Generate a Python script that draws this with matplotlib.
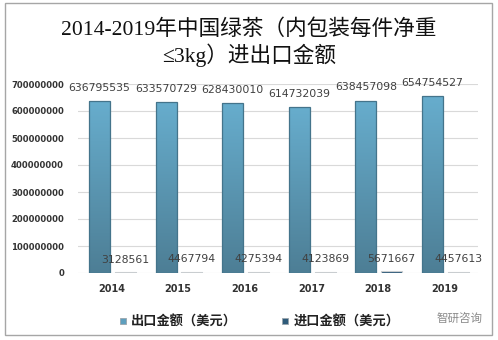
import matplotlib
matplotlib.use('Agg')
import matplotlib.pyplot as plt
import numpy as np
from matplotlib.colors import LinearSegmentedColormap
from matplotlib.patches import Rectangle
from matplotlib.lines import Line2D
from matplotlib.ticker import FuncFormatter, MultipleLocator

years = ['2014', '2015', '2016', '2017', '2018', '2019']
export_usd = [636795535, 633570729, 628430010, 614732039, 638457098, 654754527]
import_usd = [3128561, 4467794, 4275394, 4123869, 5671667, 4457613]
series_names = ['出口金额（美元）', '进口金额（美元）']
title_lines = ['2014-2019年中国绿茶（内包装每件净重', '≤3kg）进出口金额']
watermark = '智研咨询'

plt.rcParams['font.family'] = ['DejaVu Sans', 'Noto Sans CJK SC']

W, H = 498, 340
fig = plt.figure(figsize=(W / 100, H / 100), dpi=100)
fig.patch.set_facecolor('white')
ax = fig.add_axes([78 / W, 67 / H, 400 / W, 189 / H])

x = np.arange(len(years))
bw = 0.315
off_e, off_i = -0.18, 0.205

exp_col_top, exp_col_bot = '#67ADCD', '#4D7E95'
imp_col = '#2F5B7A'

bars_e = ax.bar(x + off_e, export_usd, bw, facecolor='none', edgecolor='#44748B',
                linewidth=0.9, zorder=4)
bars_i = ax.bar(x + off_i, import_usd, bw, color=imp_col, edgecolor='#C9CDD0',
                linewidth=0.8, zorder=4)

cmap = LinearSegmentedColormap.from_list('g', [exp_col_bot, exp_col_top])
grad = np.linspace(0, 1, 256).reshape(-1, 1)
for b in bars_e:
    x0, y0 = b.get_x(), b.get_y()
    im = ax.imshow(grad, cmap=cmap, aspect='auto', origin='lower',
                   extent=[x0, x0 + b.get_width(), y0, y0 + b.get_height()],
                   zorder=3, interpolation='bilinear')
    im.set_clip_path(b)

for xi, v in zip(x, export_usd):
    ax.annotate(f'{v}', (xi + off_e, v), xytext=(0, 9.5), textcoords='offset points',
                ha='center', va='center', fontsize=7.8, color='#404040', zorder=5)
for xi, v in zip(x, import_usd):
    ax.annotate(f'{v}', (xi + off_i, v), xytext=(0, 9), textcoords='offset points',
                ha='center', va='center', fontsize=7.8, color='#404040', zorder=5)

ax.set_xlim(-0.5, len(years) - 0.5)
ax.set_ylim(0, 700000000)
ax.yaxis.set_major_locator(MultipleLocator(100000000))
ax.yaxis.set_major_formatter(FuncFormatter(lambda v, p: f'{int(v)}'))
ax.set_xticks(x)
ax.set_xticklabels(years, fontsize=7, fontweight='bold', color='#333333')
ax.tick_params(axis='x', length=0, pad=8)
ax.tick_params(axis='y', length=0, pad=10, labelsize=6.1, labelcolor='#333333')
for lab in ax.get_yticklabels():
    lab.set_fontweight('bold')
ax.grid(axis='y', color='#D9D9D9', linewidth=0.8, zorder=0)
ax.set_axisbelow(True)
for s in ax.spines.values():
    s.set_visible(False)
ax.set_facecolor('white')

tfam = ['Liberation Serif', 'Noto Sans CJK SC']
fig.text(0.499, 1 - 30 / H, title_lines[0], ha='center', va='center', fontsize=15.6,
         family=tfam, color='#111111')
fig.text(0.501, 1 - 55 / H, title_lines[1], ha='center', va='center', fontsize=15.6,
         family=tfam, color='#111111')

handles = [Line2D([], [], marker='s', linestyle='none', markersize=5,
                  markerfacecolor='#5E9FBE', markeredgecolor='#9AA5AC', markeredgewidth=0.6),
           Line2D([], [], marker='s', linestyle='none', markersize=5,
                  markerfacecolor=imp_col, markeredgecolor='#9AA5AC', markeredgewidth=0.6)]
leg = fig.legend(handles, series_names, loc='center', bbox_to_anchor=(259 / W, 18 / H),
                 ncol=2, frameon=False, handlelength=0.6, handletextpad=0.3,
                 columnspacing=3.4, prop={'family': ['Noto Sans CJK SC'], 'size': 9.5,
                                          'weight': 'bold'})
for t in leg.get_texts():
    t.set_color('#222222')

fig.text(460 / W, 22 / H, watermark, ha='center', va='center', fontsize=8.3,
         family=['Noto Sans CJK SC'], color='#8A8A8A')

fig.patches.append(Rectangle((5 / W, 5 / H), 487 / W, 332 / H, transform=fig.transFigure,
                             fill=False, edgecolor='#A6A6A6', linewidth=1.0))

fig.savefig('out.png', dpi=100)
